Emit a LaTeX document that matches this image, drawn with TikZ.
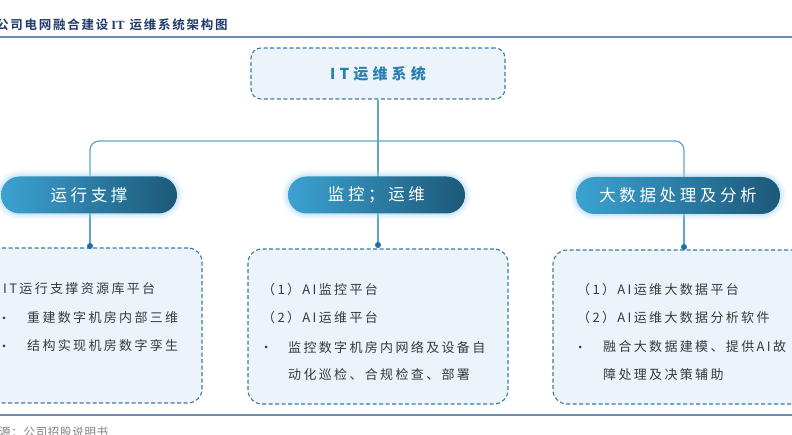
\documentclass[tikz,border=0pt]{standalone}
\usepackage{fontspec}
\setmainfont{Noto Sans CJK SC}
\newfontfamily\bodyf[LetterSpace=18]{Noto Sans CJK SC}
\newfontfamily\pillf[LetterSpace=22]{Noto Sans CJK SC}
\newfontfamily\topf[LetterSpace=28]{Noto Sans CJK SC}
\newfontfamily\titlef[LetterSpace=14]{Noto Sans CJK SC Bold}
\newfontfamily\titlelat{Liberation Serif Bold}
\newfontfamily\srcf[LetterSpace=6]{Noto Sans CJK SC}
\definecolor{linkc}{HTML}{5DA5CC}
\definecolor{boxline}{HTML}{3E7BA3}
\definecolor{boxfill}{HTML}{EAF4FA}
\definecolor{dotc}{HTML}{1F6FA8}
\definecolor{pillL}{HTML}{3CA2D2}
\definecolor{pillR}{HTML}{1C5878}
\definecolor{glowc}{HTML}{A8D8F0}
\definecolor{topc}{HTML}{2B7FB0}
\definecolor{bodyc}{HTML}{3A3A3A}
\definecolor{titlec}{HTML}{1F3A6B}
\definecolor{rulec}{HTML}{6F8BB3}
\definecolor{srcc}{HTML}{808080}
\begin{document}
\begin{tikzpicture}[x=1pt,y=-1pt,
  lnk/.style={draw=linkc, line width=1.2pt},
  rulel/.style={draw=rulec, line width=1.2pt},
  tbox/.style={draw=boxline, fill=boxfill, dash pattern=on 4pt off 2.5pt, line width=1.1pt, rounded corners=10pt, inner sep=0pt},
  dbox/.style={draw=boxline, fill=boxfill, dash pattern=on 4pt off 2.5pt, line width=1.1pt, rounded corners=14pt, inner sep=0pt},
  pill/.style={rounded corners=18.5pt, minimum height=37pt, inner sep=0pt,
    left color=pillL, right color=pillR, text=white,
    font=\pillf\fontsize{16.5}{18}\selectfont,
    preaction={draw=glowc, line width=12pt, opacity=0.12},
    preaction={draw=glowc, line width=8pt, opacity=0.18},
    preaction={draw=glowc, line width=4pt, opacity=0.3}},
  body/.style={anchor=west, inner sep=0pt, text=bodyc, font=\bodyf\fontsize{13}{15}\selectfont},
  bul/.style={circle, fill=bodyc, inner sep=0pt, minimum size=3pt}
]
\useasboundingbox (0,0) rectangle (792,435);
\fill[white] (0,0) rectangle (792,435);

% title and rules
\node[anchor=west, inner sep=0pt, text=titlec, font=\titlef\fontsize{12.5}{14}\selectfont] (title) at (-4,25) {公司电网融合建设\hspace{3pt}{\titlelat IT}\hspace{5pt}运维系统架构图};
\draw[rulel] (0,37) -- (792,37);
\draw[rulel] (0,415) -- (792,415);
\node[anchor=north west, inner sep=0pt, text=srcc, font=\srcf\fontsize{11.5}{13}\selectfont] (src) at (-1,427) {源：公司招股说明书};

% top box
\node[tbox, minimum width=254pt, minimum height=51pt, text=topc, font=\topf\bfseries\fontsize{15}{17}\selectfont] (top) at (378,73.5) {IT运维系统};

% coordinates
\coordinate (hb) at (378,141);
\coordinate (d1) at (90,246);
\coordinate (d2) at (378,245);
\coordinate (d3) at (684,247);

% bottom boxes
\node[dbox, minimum width=260pt, minimum height=155pt] (b1) at (72,325.5) {};
\node[dbox, minimum width=260pt, minimum height=155pt] (b2) at (378,326.5) {};
\node[dbox, minimum width=262pt, minimum height=154pt] (b3) at (684,327) {};

% connectors
\draw[lnk, rounded corners=9pt] (d1 |- 0,176) |- (hb) -| (d3 |- 0,177);
\draw[lnk] (top.south) -- (d2);
\draw[lnk] (d1 |- 0,213) -- (d1);
\draw[lnk] (d3 |- 0,214) -- (d3);
\fill[dotc] (d1) circle (3pt);
\fill[dotc] (d2) circle (3pt);
\fill[dotc] (d3) circle (3pt);

% pills
\node[pill, minimum width=176pt] (p1) at (89,195) {运行支撑};
\node[pill, minimum width=177pt] (p2) at (376.5,195) {监控；运维};
\node[pill, minimum width=204pt] (p3) at (678,195.5) {大数据处理及分析};

% left box text
\node[body] (l1) at (3,289) {IT运行支撑资源库平台};
\node[bul] (l2b) at (4,318) {};
\node[body] (l2) at (27,318) {重建数字机房内部三维};
\node[bul] (l3b) at (4,346) {};
\node[body] (l3) at (27,346) {结构实现机房数字孪生};

% middle box text
\node[body] (m1) at (262,290) {（1）AI监控平台};
\node[body] (m2) at (262,318) {（2）AI运维平台};
\node[bul] (m3b) at (266,347) {};
\node[body] (m3) at (288,347) {监控数字机房内网络及设备自};
\node[body] (m4) at (288,375) {动化巡检、合规检查、部署};

% right box text
\node[body] (r1) at (577,290) {（1）AI运维大数据平台};
\node[body] (r2) at (577,318) {（2）AI运维大数据分析软件};
\node[bul] (r3b) at (580,347) {};
\node[body] (r3) at (603,347) {融合大数据建模、提供AI故};
\node[body] (r4) at (603,375) {障处理及决策辅助};
\end{tikzpicture}
\end{document}
